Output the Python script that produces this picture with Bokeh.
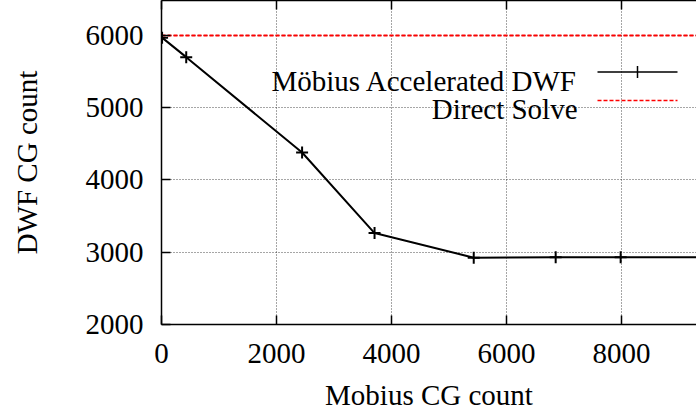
from bokeh.plotting import figure
from bokeh.models import (Range1d, LinearAxis, Label, Grid, BoxAnnotation,
                          FixedTicker, ColumnDataSource)
from bokeh.embed import file_html
from bokeh.resources import INLINE

# ---- data ----
mobius_cg = [10, 430, 2445, 3705, 5430, 6855, 7985, 10000]
dwf_cg = [5970, 5700, 4380, 3265, 2925, 2930, 2930, 2930]
direct_x = [0, 10000]
direct_y = [6000, 6000]
x_ticks = [0, 2000, 4000, 6000, 8000]
y_ticks = [2000, 3000, 4000, 5000, 6000]
series_names = ["Möbius Accelerated DWF", "Direct Solve"]
x_title = "Mobius CG count"
y_title = "DWF CG count"

FONT = "Liberation Serif"
FS = "29px"

p = figure(width=696, height=416, output_backend="svg", toolbar_location=None,
           x_range=Range1d(0, 9304), y_range=Range1d(2000, 6484),
           min_border_left=161, min_border_right=0, min_border_top=0,
           min_border_bottom=92, x_axis_type=None, y_axis_type=None)
p.outline_line_color = None
p.background_fill_color = "white"

def style_axis(ax):
    ax.axis_line_color = "black"
    ax.axis_line_width = 1.5
    ax.major_tick_in = 9
    ax.major_tick_out = 0
    ax.major_tick_line_width = 1.5
    ax.major_tick_line_color = "black"
    ax.minor_tick_in = 9
    ax.minor_tick_out = 0
    ax.minor_tick_line_width = 1.5
    ax.minor_tick_line_color = None
    ax.major_label_text_font = FONT
    ax.major_label_text_font_size = FS
    ax.major_label_text_color = "black"
    ax.axis_label_text_font = FONT
    ax.axis_label_text_font_size = FS
    ax.axis_label_text_font_style = "normal"
    ax.axis_label_text_color = "black"

xaxis = LinearAxis(ticker=FixedTicker(ticks=x_ticks), axis_label=x_title)
style_axis(xaxis)
xaxis.major_label_standoff = 19
xaxis.axis_label_standoff = 13
p.add_layout(xaxis, "below")

yaxis = LinearAxis(ticker=FixedTicker(ticks=y_ticks), axis_label=y_title)
style_axis(yaxis)
yaxis.major_label_standoff = 18
yaxis.axis_label_standoff = 40
p.add_layout(yaxis, "left")

# top border with mirrored inward ticks (minor ticks, so no labels)
top = LinearAxis(ticker=FixedTicker(ticks=[], minor_ticks=x_ticks))
style_axis(top)
top.minor_tick_line_color = "black"
top.major_label_standoff = 0
p.add_layout(top, "above")

for dim, ticks in ((0, x_ticks), (1, y_ticks)):
    g = Grid(dimension=dim, ticker=FixedTicker(ticks=ticks))
    g.grid_line_color = "#222222"
    g.grid_line_dash = "1 2"
    g.grid_line_width = 1
    g.grid_line_alpha = 0.8
    p.add_layout(g)

src = ColumnDataSource(dict(x=mobius_cg, y=dwf_cg))
dsrc = ColumnDataSource(dict(x=direct_x, y=direct_y))

p.line("x", "y", source=dsrc, line_color="red", line_width=2, line_dash="4 2")
p.line("x", "y", source=src, line_color="black", line_width=2)
p.scatter("x", "y", source=src, marker="cross", size=12, line_color="black",
          line_width=2)

# ---- gnuplot-style key (text right-aligned, sample to its right) ----
KEY_TEXT_X = 416          # screen px from frame left (right edge of text)
KEY_SAMPLE = (436, 516)   # screen px from frame left
KEY_ROWS = [(244, 252.5), (216, 224)]   # (text baseline, sample y) from frame bottom

def sbox(x0, x1, y0, y1, color, dash="solid", width=2):
    return BoxAnnotation(left=x0, right=x1, bottom=y0, top=y1,
                         left_units="screen", right_units="screen",
                         bottom_units="screen", top_units="screen",
                         fill_color=None, fill_alpha=0, line_color=color,
                         line_alpha=1.0, line_width=width, line_dash=dash)

for i, (name, (ty, sy)) in enumerate(zip(series_names, KEY_ROWS)):
    p.add_layout(Label(x=KEY_TEXT_X, y=ty, x_units="screen", y_units="screen",
                       text=name, text_align="right", text_baseline="alphabetic",
                       text_font=FONT, text_font_size=FS, text_color="black"))
    if i == 0:
        p.add_layout(sbox(KEY_SAMPLE[0], KEY_SAMPLE[1], sy, sy, "black", width=1.5))
        xm = (KEY_SAMPLE[0] + KEY_SAMPLE[1]) / 2
        p.add_layout(sbox(xm, xm, sy - 6, sy + 6, "black", width=1.5))
    else:
        p.add_layout(sbox(KEY_SAMPLE[0], KEY_SAMPLE[1], sy, sy, "red", "4 2", width=1.5))

open("out.html", "w").write(file_html(p, INLINE))
